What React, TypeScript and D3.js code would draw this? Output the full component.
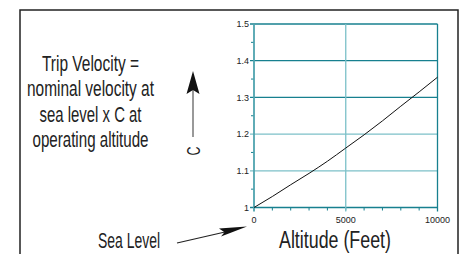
import React, { useEffect, useRef } from "react";
import * as d3 from "d3";

// C factor versus altitude (feet)
const altitudes = [0, 1000, 2000, 3000, 4000, 5000, 6000, 7000, 8000, 9000, 10000];
const cValues = [1.0, 1.03, 1.062, 1.093, 1.126, 1.162, 1.198, 1.236, 1.276, 1.315, 1.355];
const yTicks = [1, 1.1, 1.2, 1.3, 1.4, 1.5];
const xTicks = [0, 5000, 10000];
const noteLines = ["Trip Velocity =", "nominal velocity at", "sea level x C at", "operating altitude"];
const noteWidths = [97, 127, 102, 116];

const DARK = "#17808f";
const LIGHT = "#7cc0c8";
const SANS = "'Liberation Sans', Arial, sans-serif";

const App = () => {
  const svgRef = useRef<SVGSVGElement>(null);

  useEffect(() => {
    const width = 463;
    const height = 254;
    const plot = { left: 254, right: 437.5, top: 24, bottom: 207.5 };

    const svg = d3.select(svgRef.current);
    svg.selectAll("*").remove();

    svg.append("rect").attr("width", width).attr("height", height).attr("fill", "#fff");

    // outer frame
    svg.append("path")
      .attr("d", `M20,${height + 2}V10H458V${height + 2}`)
      .attr("fill", "none")
      .attr("stroke", "#222")
      .attr("stroke-width", 1.5);

    const x = d3.scaleLinear().domain([0, 10000]).range([plot.left, plot.right]);
    const y = d3.scaleLinear().domain([1, 1.5]).range([plot.bottom, plot.top]);

    // minor ticks
    svg.append("g")
      .selectAll("line")
      .data(d3.range(1.05, 1.5, 0.1))
      .join("line")
      .attr("x1", plot.left - 3).attr("x2", plot.left)
      .attr("y1", d => y(d)).attr("y2", d => y(d))
      .attr("stroke", DARK).attr("stroke-width", 1);

    svg.append("g")
      .selectAll("line")
      .data(d3.range(1000, 10000, 1000))
      .join("line")
      .attr("x1", d => x(d)).attr("x2", d => x(d))
      .attr("y1", plot.bottom).attr("y2", plot.bottom + 3)
      .attr("stroke", DARK).attr("stroke-width", 1);

    // horizontal grid
    svg.append("g")
      .selectAll("line")
      .data(yTicks)
      .join("line")
      .attr("x1", plot.left - 4).attr("x2", plot.right)
      .attr("y1", d => y(d)).attr("y2", d => y(d))
      .attr("stroke", d => (d === 1.1 || d === 1.2 ? LIGHT : DARK))
      .attr("stroke-width", 1.3);

    // vertical grid
    svg.append("g")
      .selectAll("line")
      .data(xTicks)
      .join("line")
      .attr("x1", d => x(d)).attr("x2", d => x(d))
      .attr("y1", plot.top).attr("y2", plot.bottom + 4)
      .attr("stroke", d => (d === 5000 ? LIGHT : d === 0 ? "#4ea3ae" : DARK))
      .attr("stroke-width", d => (d === 0 ? 1.8 : 1.3));

    // tick labels
    svg.append("g")
      .selectAll("text")
      .data(yTicks)
      .join("text")
      .attr("x", plot.left - 5)
      .attr("y", d => y(d) + 3.2)
      .attr("text-anchor", "end")
      .attr("font-family", SANS)
      .attr("font-size", 9)
      .attr("fill", "#222")
      .text(d => d3.format("~g")(d));

    svg.append("g")
      .selectAll("text")
      .data(xTicks)
      .join("text")
      .attr("x", d => x(d))
      .attr("y", plot.bottom + 15)
      .attr("text-anchor", "middle")
      .attr("font-family", SANS)
      .attr("font-size", 9)
      .attr("fill", "#222")
      .text(d => String(d));

    // curve
    const line = d3.line<number>()
      .x((_, i) => x(altitudes[i]))
      .y(d => y(d))
      .curve(d3.curveMonotoneX);
    svg.append("path")
      .datum(cValues)
      .attr("d", line)
      .attr("fill", "none")
      .attr("stroke", "#111")
      .attr("stroke-width", 1);

    // axis title
    svg.append("text")
      .attr("x", 335).attr("y", 248)
      .attr("text-anchor", "middle")
      .attr("font-family", SANS)
      .attr("font-size", 23)
      .attr("textLength", 112)
      .attr("lengthAdjust", "spacingAndGlyphs")
      .attr("fill", "#222")
      .text("Altitude (Feet)");

    // C label with arrow
    svg.append("text")
      .attr("transform", "translate(200,151) rotate(-90)")
      .attr("text-anchor", "middle")
      .attr("font-family", SANS)
      .attr("font-size", 18)
      .attr("textLength", 9)
      .attr("lengthAdjust", "spacingAndGlyphs")
      .attr("fill", "#222")
      .text("C");
    svg.append("line")
      .attr("x1", 193).attr("x2", 193)
      .attr("y1", 137).attr("y2", 90)
      .attr("stroke", "#555").attr("stroke-width", 1.2);
    svg.append("path")
      .attr("d", "M193,71L199.5,94L193,90L186.5,94Z")
      .attr("fill", "#111");

    // note
    svg.append("g")
      .selectAll("text")
      .data(noteLines)
      .join("text")
      .attr("x", 90.5)
      .attr("y", (_, i) => 71 + i * 25.3)
      .attr("text-anchor", "middle")
      .attr("font-family", SANS)
      .attr("font-size", 22)
      .attr("textLength", (_, i) => noteWidths[i])
      .attr("lengthAdjust", "spacingAndGlyphs")
      .attr("fill", "#222")
      .text(d => d);

    // sea level pointer
    svg.append("text")
      .attr("x", 129).attr("y", 248)
      .attr("text-anchor", "middle")
      .attr("font-family", SANS)
      .attr("font-size", 22)
      .attr("textLength", 62)
      .attr("lengthAdjust", "spacingAndGlyphs")
      .attr("fill", "#222")
      .text("Sea Level");
    svg.append("line")
      .attr("x1", 177).attr("y1", 243)
      .attr("x2", 225).attr("y2", 232)
      .attr("stroke", "#222").attr("stroke-width", 1.2);
    svg.append("path")
      .attr("d", "M247,226.5L221,236.5L224.5,232.2L219,228.5Z")
      .attr("fill", "#111");
  }, []);

  return (
    <svg
      ref={svgRef}
      width={463}
      height={254}
      style={{ position: "absolute", left: 0, top: 0 }}
    />
  );
};

export default App;
